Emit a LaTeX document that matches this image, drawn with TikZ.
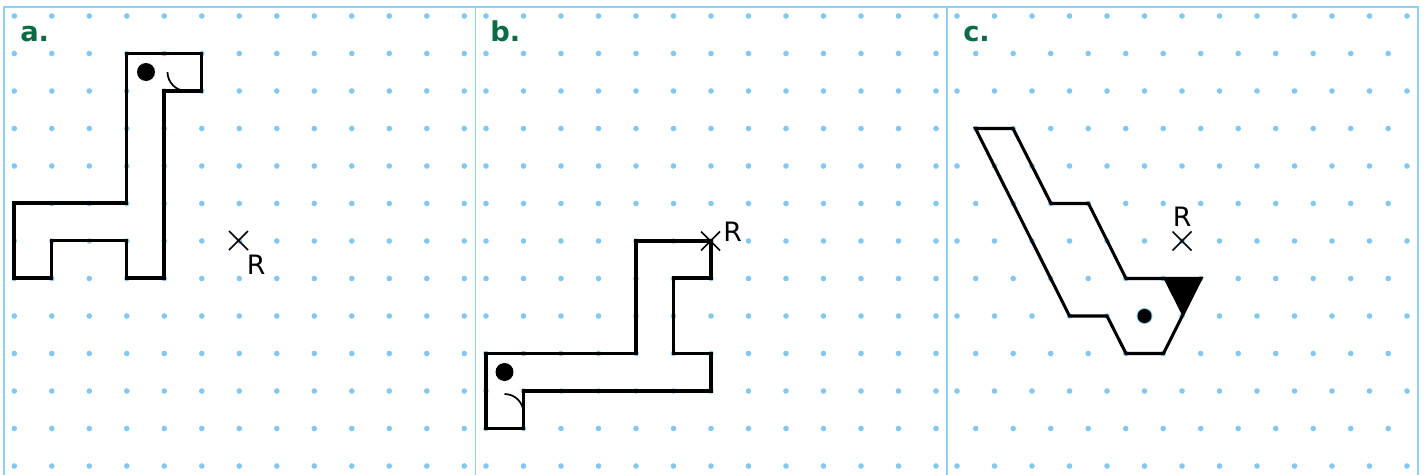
\documentclass[tikz,border=0pt]{standalone}
\usepackage{fontspec}
\usetikzlibrary{calc}
\setmainfont{DejaVu Sans}
\definecolor{gridblue}{HTML}{82C8F0}
\definecolor{framblue}{HTML}{8FD0F2}
\definecolor{labgreen}{HTML}{0B6B45}
\tikzset{
  griddot/.style={circle,fill=gridblue,draw=none,inner sep=0pt,minimum size=4.2pt},
  frameline/.style={draw=framblue,line width=1.1pt},
  shapeline/.style={draw=black,line width=2.3pt,line join=miter},
  thinarc/.style={draw=black,line width=1.3pt},
  crossline/.style={draw=black,line width=1.1pt},
  bigdot/.style={circle,fill=black,draw=none,inner sep=0pt,minimum size=13.5pt},
  panellabel/.style={font=\bfseries\fontsize{20.5}{20.5}\selectfont,text=labgreen,inner sep=0pt,anchor=base west},
  rlabel/.style={font=\fontsize{20}{20}\selectfont,text=black,inner sep=0pt,anchor=base west}
}
\begin{document}
\begin{tikzpicture}[x=0.75pt,y=-0.75pt]
\useasboundingbox (0,0) rectangle (1425,475);
\fill[white] (0,0) rectangle (1425,475);
% dots
\foreach \j in {0,...,12}{
  \foreach \k in {0,...,12}{
    \node[griddot] at ({14.3+37.5*\k},{16+37.5*\j}) {};
    \node[griddot] at ({486+37.5*\k},{16+37.5*\j}) {};
  }
}
\foreach \j in {0,2,...,12}{
  \foreach \k in {0,...,12}{
    \node[griddot] at ({957+37.5*\k},{16+37.5*\j}) {};
  }
}
\foreach \j in {1,3,...,11}{
  \foreach \k in {0,...,11}{
    \node[griddot] at ({975.7+37.5*\k},{16+37.5*\j}) {};
  }
}
% frames
\draw[frameline] (4,475) -- (4,7) -- (1418,7) -- (1418,475);
\draw[frameline] (475.5,7) -- (475.5,475);
\draw[frameline] (947,7) -- (947,475);
% panel a
\path[shapeline] (126.5,53.5) -- (201.5,53.5) -- (201.5,91) -- (164,91) -- (164,278) -- (126.5,278) -- (126.5,240.5) -- (51.5,240.5) -- (51.5,278) -- (14,278) -- (14,203) -- (126.5,203) -- cycle;
\node[bigdot] (adot) at (146,72) {};
\draw[thinarc] (167.5,72) arc (180:90:19);
\coordinate (ax) at (238.5,240.5);
\draw[crossline] ($(ax)+(-9.5,-9.5)$) -- ($(ax)+(9.5,9.5)$);
\draw[crossline] ($(ax)+(-9.5,9.5)$) -- ($(ax)+(9.5,-9.5)$);
\node[rlabel] (ar) at (246.5,274) {R};
\node[panellabel] (la) at (20,41) {a.};
% panel b
\path[shapeline] (636,241) -- (711,241) -- (711,278) -- (673.5,278) -- (673.5,353.5) -- (711,353.5) -- (711,391) -- (523.5,391) -- (523.5,428.5) -- (486,428.5) -- (486,353.5) -- (636,353.5) -- cycle;
\node[bigdot] (bdot) at (504.5,372) {};
\draw[thinarc] (504.5,394) arc (-90:0:19);
\coordinate (bx) at (710.5,241);
\draw[crossline] ($(bx)+(-9.5,-9.5)$) -- ($(bx)+(9.5,9.5)$);
\draw[crossline] ($(bx)+(-9.5,9.5)$) -- ($(bx)+(9.5,-9.5)$);
\node[rlabel] (br) at (723,241) {R};
\node[panellabel] (lb) at (490,41) {b.};
% panel c
\path[shapeline] (975.5,128.5) -- (1013,128.5) -- (1051,203.5) -- (1088.5,203.5) -- (1126,278.5) -- (1201,278.5) -- (1163.5,353.5) -- (1126,353.5) -- (1107,316) -- (1069.5,316) -- cycle;
\fill[black] (1163.5,278.5) -- (1201,278.5) -- (1182.5,316) -- cycle;
\node[circle,fill=gridblue,inner sep=0pt,minimum size=12pt] (cdoth) at (1144.5,316) {};
\node[circle,fill=black,inner sep=0pt,minimum size=10.5pt] (cdot) at (1144.5,316) {};
\coordinate (cx) at (1182,241);
\draw[crossline] ($(cx)+(-9.5,-9.5)$) -- ($(cx)+(9.5,9.5)$);
\draw[crossline] ($(cx)+(-9.5,9.5)$) -- ($(cx)+(9.5,-9.5)$);
\node[rlabel] (cr) at (1172.5,226.7) {R};
\node[panellabel] (lc) at (963,41) {c.};
\end{tikzpicture}
\end{document}
